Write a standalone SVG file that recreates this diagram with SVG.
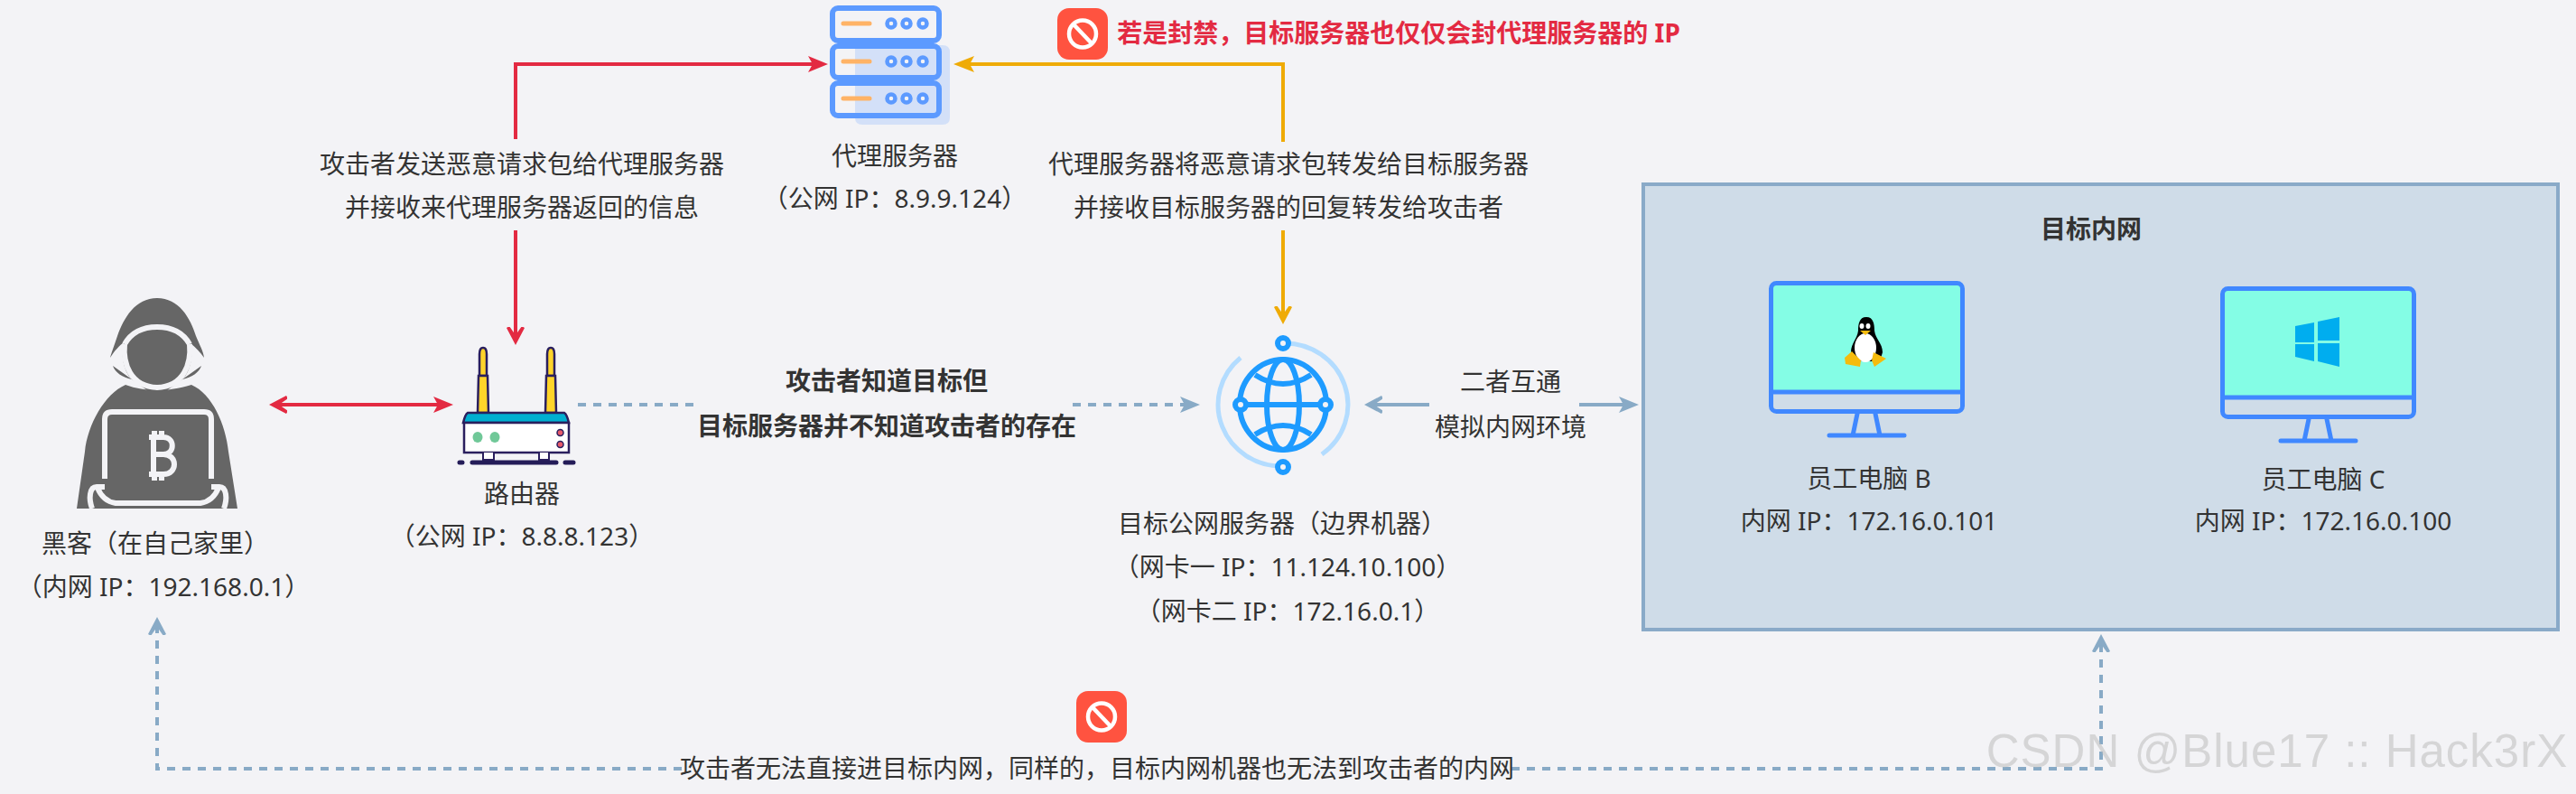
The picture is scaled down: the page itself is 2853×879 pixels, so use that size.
<svg xmlns="http://www.w3.org/2000/svg" width="2853" height="879" viewBox="0 0 2853 879">
<style>
text{font-family:"Noto Sans","Noto Sans CJK SC",sans-serif;font-size:28px;fill:#333;text-anchor:middle}
.b{font-weight:700}
.red{stroke:#e32a42;stroke-width:4;fill:none}
.org{stroke:#efab06;stroke-width:4;fill:none}
.blu{stroke:#88aac6;stroke-width:4;fill:none}
.dsh{stroke:#88aac6;stroke-width:4;fill:none;stroke-dasharray:9 8}
.mon{fill:none;stroke:#4088ff;stroke-width:5;stroke-linejoin:round;stroke-linecap:round}
.hk{fill:#666}
.cut{fill:none;stroke:#f3f3f6;stroke-width:6}
.sv{fill:none;stroke:#5c9aff;stroke-width:6}
.svd{fill:#f3f3f6;stroke:#5c9aff;stroke-width:4.5}
.gl{fill:none;stroke:#1e9bff;stroke-width:6}
.nd{fill:#f3f3f6;stroke:#1e9bff;stroke-width:6}
</style>
<defs>
<marker id="redS" markerUnits="userSpaceOnUse" markerWidth="24" markerHeight="20" refX="12" refY="9" orient="auto"><path d="M0,0L22,9L0,18L5,9Z" fill="#e32a42"/></marker>
<marker id="redO" markerUnits="userSpaceOnUse" markerWidth="24" markerHeight="22" refX="10" refY="10" orient="auto-start-reverse"><path d="M1,0L20,10L1,20L-1,17L9,10L-1,3Z" fill="#e32a42" overflow="visible"/></marker>
<marker id="orgS" markerUnits="userSpaceOnUse" markerWidth="24" markerHeight="20" refX="13" refY="9" orient="auto"><path d="M0,0L23,9L0,18L5,9Z" fill="#efab06"/></marker>
<marker id="orgO" markerUnits="userSpaceOnUse" markerWidth="24" markerHeight="22" refX="10" refY="10" orient="auto"><path d="M1,0L20,10L1,20L-1,17L9,10L-1,3Z" fill="#efab06"/></marker>
<marker id="bluS" markerUnits="userSpaceOnUse" markerWidth="24" markerHeight="20" refX="12" refY="9" orient="auto"><path d="M0,0L22,9L0,18L5,9Z" fill="#88aac6"/></marker>
<marker id="bluO" markerUnits="userSpaceOnUse" markerWidth="24" markerHeight="22" refX="10" refY="10" orient="auto"><path d="M1,0L20,10L1,20L-1,17L9,10L-1,3Z" fill="#88aac6"/></marker>
<g id="ban"><rect x="0" y="0" width="56" height="57" rx="13" fill="#ff5340"/><circle cx="28" cy="28.500" r="15" fill="none" stroke="#fff" stroke-width="4.500"/><path d="M18,18L38,39" stroke="#fff" stroke-width="4.500"/></g>
<g id="monitor"><rect x="0" y="0" width="217" height="147" rx="8" fill="none"/><rect x="3" y="3" width="211" height="120" fill="#84fde5"/><rect x="2.500" y="2.500" width="212" height="142" rx="6" class="mon"/><path d="M2.500,123H214.500M98,147L93,171M118,147L123,171M67,171H150" class="mon"/></g>
</defs>
<rect width="2853" height="879" fill="#f3f3f6"/>

<g id="target-intranet">
<rect x="1820" y="204" width="1013" height="493" fill="#cfdce8" stroke="#8aaac8" stroke-width="4"/>
<text x="2316" y="264" class="b">目标内网</text>
</g>

<g id="connectors">
<path class="red" d="M571,154V71H907" marker-end="url(#redS)"/>
<path class="red" d="M571,255V372" marker-end="url(#redO)"/>
<path class="red" d="M308,448H492" marker-start="url(#redO)" marker-end="url(#redS)"/>
<path class="org" d="M1421,157V71H1066" marker-end="url(#orgS)"/>
<path class="org" d="M1421,255V349" marker-end="url(#orgO)"/>
<path class="dsh" d="M640,448H768"/>
<path class="dsh" d="M1188,448H1319" marker-end="url(#bluS)"/>
<path class="blu" d="M1583,448H1521" marker-end="url(#bluO)"/>
<path class="blu" d="M1749,448H1805" marker-end="url(#bluS)"/>
<path class="dsh" d="M755,851H174V693" marker-end="url(#bluO)"/>
<path class="dsh" d="M1674,851H2327V712" marker-end="url(#bluO)"/>
</g>

<g id="edge-labels">
<text x="578" y="192">攻击者发送恶意请求包给代理服务器</text>
<text x="578" y="240">并接收来代理服务器返回的信息</text>
<text x="1427" y="192">代理服务器将恶意请求包转发给目标服务器</text>
<text x="1427" y="240">并接收目标服务器的回复转发给攻击者</text>
<text x="982" y="432" class="b">攻击者知道目标但</text>
<text x="982" y="482" class="b">目标服务器并不知道攻击者的存在</text>
<text x="1673" y="433">二者互通</text>
<text x="1673" y="483">模拟内网环境</text>
<text x="1215" y="861">攻击者无法直接进目标内网，同样的，目标内网机器也无法到攻击者的内网</text>
</g>

<g id="ban-top"><use href="#ban" x="1171" y="9"/><text x="1549" y="47" class="b" style="fill:#e32a42">若是封禁，目标服务器也仅仅会封代理服务器的 IP</text></g>
<g id="ban-bottom"><use href="#ban" x="1192" y="765"/></g>

<g id="hacker">
<path class="hk" d="M174,330C150,330 137,352 130,372C126,384 123,392 122,396C127,388 132,383 138,378L137,380C134,392 136,410 146,420C136,418 127,412 125,405L174,440L223,405C221,412 212,418 202,420C212,410 214,392 211,380C217,385 222,390 226,396C225,388 221,382 217,372C211,352 198,330 174,330Z"/>
<path class="cut" d="M138,381C146,367 160,362 174,362C188,362 202,367 210,381"/>
<path class="hk" d="M143,384C150,372 162,369 174,369C186,369 198,372 205,384C207,400 200,423 174,423C148,423 141,400 143,384Z"/>
<path class="cut" d="M138,381C136,402 144,428 174,429C204,428 212,402 210,381"/>
<path class="hk" d="M139,426C150,430 162,432 174,432C186,432 198,430 212,426C235,436 250,470 253,500L263,563H85L94,500C97,470 116,436 139,426Z"/>
<path class="cut" d="M116,530V464Q116,456 124,456H226Q234,456 234,464V530"/>
<path class="cut" d="M116,539H107C99,539 98,552 102,563M234,539H243C251,539 252,552 248,563"/>
<path class="cut" d="M108,540Q114,555 128,557H222Q236,555 242,540"/>
<rect x="120" y="462" width="109" height="81" fill="#666"/>
<path d="M108,540Q114,555 128,557H222Q236,555 242,540" fill="none" stroke="#f3f3f6" stroke-width="0"/>
<path d="M165,484H181C194,484 194,503 181,503C197,503 197,525 181,525H165M170,484V525M170,503H181M171,477V484M179,477V484M171,525V532M179,525V532" fill="none" stroke="#f3f3f6" stroke-width="6"/>
<text x="172" y="612">黑客（在自己家里）</text>
<text x="181" y="660">（内网 IP：192.168.0.1）</text>
</g>

<g id="router">
<path d="M535,385Q531,385 531,392V416H539V392Q539,385 535,385ZM610,385Q606,385 606,392V416H614V392Q614,385 610,385Z" fill="#ffd42a" stroke="#2a1f5e" stroke-width="2.500"/>
<path d="M530,416H540L541,457H529ZM605,416H615L616,457H604Z" fill="#ffd42a" stroke="#2a1f5e" stroke-width="2.500"/>
<path d="M518,457H625Q628,459 630,468H513Q515,459 518,457Z" fill="#00afd0" stroke="#2a1f5e" stroke-width="2.500"/>
<rect x="514" y="468" width="116" height="33" fill="#fff" stroke="#2a1f5e" stroke-width="2.500"/>
<ellipse cx="529" cy="484" rx="5.500" ry="6" fill="#70c898"/><ellipse cx="548" cy="484" rx="5.500" ry="6" fill="#70c898"/>
<circle cx="620.500" cy="479" r="3.500" fill="#e85a6a" stroke="#2a1f5e" stroke-width="1.500"/><circle cx="620.500" cy="492" r="3.500" fill="#e85a6a" stroke="#2a1f5e" stroke-width="1.500"/>
<path d="M535,501V509H547V501M597,501V509H608V501" fill="#fff" stroke="#2a1f5e" stroke-width="2"/>
<path d="M523,512H616M509,512H512M626,512H635" stroke="#241c58" stroke-width="5" stroke-linecap="round"/>
<text x="578" y="557">路由器</text>
<text x="578" y="604">（公网 IP：8.8.8.123）</text>
</g>

<g id="proxy-server">
<path d="M947,50H1044Q1052,50 1052,58V130Q1052,138 1044,138H955Q947,138 947,130Z" fill="#d3e0f8"/>
<rect x="922" y="9" width="118" height="36" rx="6" class="sv"/>
<rect x="922" y="51" width="118" height="35" rx="6" class="sv"/>
<rect x="922" y="92" width="118" height="36" rx="6" class="sv"/>
<path d="M934,26H963M934,68H963M934,109H963" stroke="#ffb366" stroke-width="5" stroke-linecap="round"/>
<circle class="svd" cx="987" cy="26" r="4.500"/><circle class="svd" cx="1004" cy="26" r="4.500"/><circle class="svd" cx="1022" cy="26" r="4.500"/>
<circle class="svd" cx="987" cy="68" r="4.500"/><circle class="svd" cx="1004" cy="68" r="4.500"/><circle class="svd" cx="1022" cy="68" r="4.500"/>
<circle class="svd" cx="987" cy="109" r="4.500"/><circle class="svd" cx="1004" cy="109" r="4.500"/><circle class="svd" cx="1022" cy="109" r="4.500"/>
<text x="991" y="183">代理服务器</text>
<text x="991" y="230">（公网 IP：8.9.9.124）</text>
</g>

<g id="target-server">
<path d="M1421,380A70,68 0 0 1 1464,503M1421,516A70,68 0 0 1 1374,396" fill="none" stroke="#b3dcff" stroke-width="5"/>
<ellipse class="gl" cx="1421" cy="448" rx="48" ry="50"/>
<ellipse class="gl" cx="1421" cy="448" rx="18" ry="50"/>
<path class="gl" d="M1376,448H1466M1390,415Q1421,435 1452,415M1390,481Q1421,461 1452,481"/>
<circle class="nd" cx="1374" cy="448" r="6"/><circle class="nd" cx="1468" cy="448" r="6"/><circle class="nd" cx="1421" cy="380" r="6"/><circle class="nd" cx="1421" cy="517" r="6"/>
<text x="1420" y="590">目标公网服务器（边界机器）</text>
<text x="1426" y="638">（网卡一 IP：11.124.10.100）</text>
<text x="1426" y="687">（网卡二 IP：172.16.0.1）</text>
</g>

<g id="pc-b">
<use href="#monitor" x="1959" y="311"/>
<path d="M2067,351C2059,351 2058,359 2058,366C2057,375 2050,380 2050,390L2052,400H2082L2085,390C2085,380 2077,375 2076,366C2076,359 2075,351 2067,351Z" fill="#000"/>
<ellipse cx="2066" cy="385" rx="12" ry="16" fill="#fff"/>
<ellipse cx="2062" cy="361" rx="2.500" ry="3" fill="#fff"/><ellipse cx="2069" cy="361" rx="2.500" ry="3" fill="#fff"/>
<path d="M2060,366H2072L2066,371Z" fill="#f5bb0c"/>
<path d="M2051,389L2043,396L2044,403L2060,406L2061,399ZM2075,390L2089,397L2076,406L2073,399Z" fill="#f5bb0c"/>
<text x="2070" y="540">员工电脑 B</text>
<text x="2070" y="587">内网 IP：172.16.0.101</text>
</g>

<g id="pc-c">
<use href="#monitor" x="2459" y="317"/>
<path d="M2542,361L2563,357V379H2542ZM2567,356L2591,351V377H2567ZM2542,381H2563V400L2542,395ZM2567,380H2591V406L2567,400Z" fill="#00adef"/>
<text x="2573" y="541">员工电脑 C</text>
<text x="2573" y="587">内网 IP：172.16.0.100</text>
</g>

<g id="watermark">
<text x="2522" y="849" style="font-family:'Liberation Sans',sans-serif;font-size:51px;fill:#bdbdbd;opacity:.55;letter-spacing:1px">CSDN @Blue17 :: Hack3rX</text>
</g>
</svg>
